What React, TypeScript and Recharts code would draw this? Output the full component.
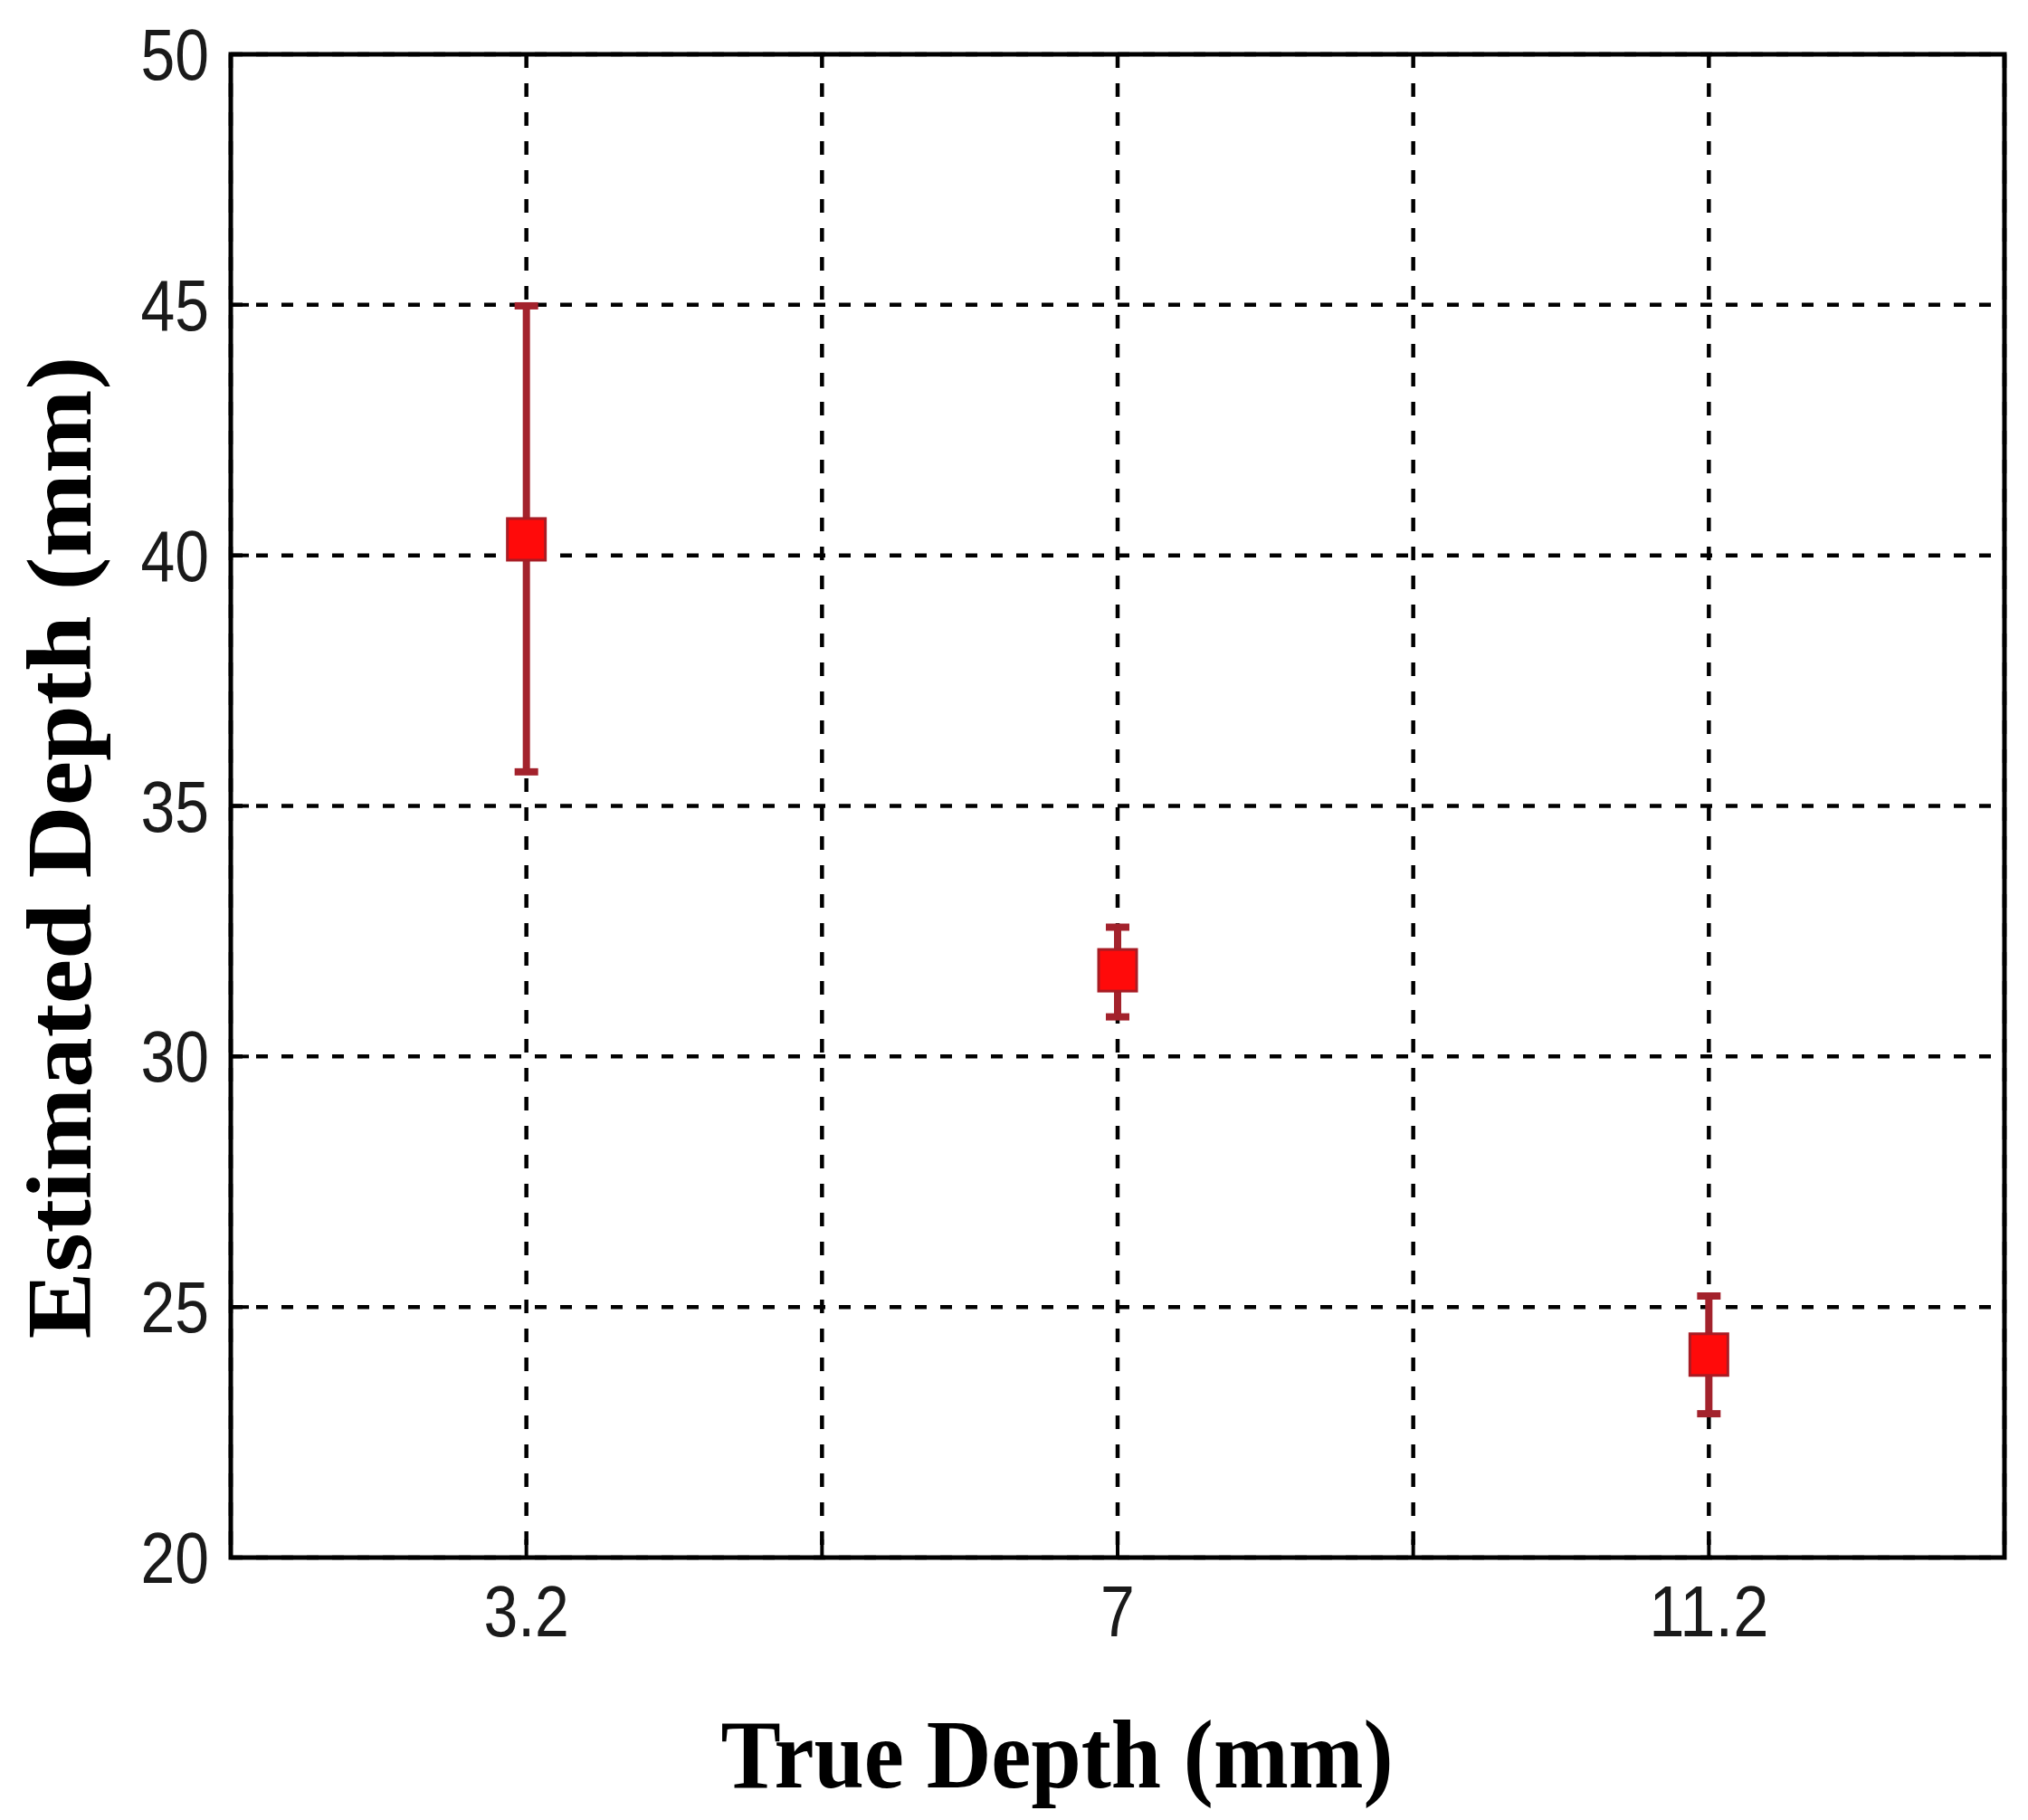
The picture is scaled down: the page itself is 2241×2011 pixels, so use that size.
import React from "react";
import {
  ScatterChart,
  Scatter,
  XAxis,
  YAxis,
  CartesianGrid,
  ErrorBar,
  ReferenceArea,
  Label,
} from "recharts";

// ---- data ----
const trueDepthLabels = ["3.2", "7", "11.2"];
const categorySlots = [1, 3, 5];
const estimatedMean = [40.32, 31.72, 24.05];
const estimatedUpper = [44.98, 32.58, 25.22];
const estimatedLower = [35.68, 30.79, 22.87];
const yTicks = [20, 25, 30, 35, 40, 45, 50];
const xTicks = [1, 2, 3, 4, 5];
const xDomain = [0, 6];
const yDomain = [20, 50];

const data = estimatedMean.map((m, i) => ({
  x: categorySlots[i],
  y: m,
  err: [m - estimatedLower[i], estimatedUpper[i] - m],
  label: trueDepthLabels[i],
}));

const xTickText = (v: number) => {
  const i = categorySlots.indexOf(v);
  return i >= 0 ? trueDepthLabels[i] : "";
};

// ---- styles ----
const TICK_FONT = "'Liberation Sans', Arial, sans-serif";
const LABEL_FONT = "'Liberation Serif', 'Times New Roman', serif";
const TICK_SIZE = 79;
const SQUEEZE = 0.86;
const INWARD = 20;
const BAR_COLOR = "#a3222c";

const textWidth = (s: string) =>
  s.split("").reduce((a, c) => a + (c === "." ? 0.278 : 0.556), 0) * TICK_SIZE * SQUEEZE;

const XTick = (props: any) => {
  const { x, y, payload } = props;
  const t = xTickText(payload.value);
  return (
    <g>
      <line x1={x} y1={y} x2={x} y2={y - INWARD} stroke="#000" strokeWidth={4} />
      {t !== "" && (
        <text
          x={x}
          y={y + 87}
          textAnchor="middle"
          fontFamily={TICK_FONT}
          fontSize={TICK_SIZE}
          fill="#1a1a1a"
          textLength={textWidth(t)}
          lengthAdjust="spacingAndGlyphs"
        >
          {t}
        </text>
      )}
    </g>
  );
};

const TopTick = (props: any) => {
  const { x, y } = props;
  return <line x1={x} y1={y} x2={x} y2={y + INWARD} stroke="#000" strokeWidth={4} />;
};

const YTick = (props: any) => {
  const { x, y, payload } = props;
  const t = String(payload.value);
  return (
    <g>
      <line x1={x} y1={y} x2={x + INWARD} y2={y} stroke="#000" strokeWidth={4} />
      <text
        x={x - 24}
        y={y + 28}
        textAnchor="end"
        fontFamily={TICK_FONT}
        fontSize={TICK_SIZE}
        fill="#1a1a1a"
        textLength={textWidth(t)}
        lengthAdjust="spacingAndGlyphs"
      >
        {t}
      </text>
    </g>
  );
};

const RightTick = (props: any) => {
  const { x, y } = props;
  return <line x1={x} y1={y} x2={x - INWARD} y2={y} stroke="#000" strokeWidth={4} />;
};

const XLabel = (props: any) => {
  const vb = props.viewBox || { x: 255, y: 1721, width: 1960, height: 290 };
  return (
    <text
      x={vb.x + vb.width / 2 - 67}
      y={vb.y + 254}
      textAnchor="middle"
      fontFamily={LABEL_FONT}
      fontWeight="bold"
      fontSize={107}
      fill="#000"
      textLength={743}
      lengthAdjust="spacingAndGlyphs"
    >
      True Depth (mm)
    </text>
  );
};

const YLabel = (props: any) => {
  const vb = props.viewBox || { x: 0, y: 60, width: 255, height: 1661 };
  const cx = 100;
  const cy = vb.y + vb.height / 2 + 46;
  return (
    <text
      x={cx}
      y={cy}
      transform={`rotate(-90, ${cx}, ${cy})`}
      textAnchor="middle"
      fontFamily={LABEL_FONT}
      fontWeight="bold"
      fontSize={102}
      fill="#000"
      textLength={1086}
      lengthAdjust="spacingAndGlyphs"
    >
      Estimated Depth (mm)
    </text>
  );
};

const SquareMarker = (props: any) => {
  const { cx, cy } = props;
  const w = 42;
  const h = 46;
  return (
    <rect
      x={cx - w / 2}
      y={cy - h / 2}
      width={w}
      height={h}
      fill="#ff0a0a"
      stroke="#a81c24"
      strokeWidth={3}
    />
  );
};

export default function App() {
  return (
    <div style={{ position: "absolute", left: 0, top: 0, background: "#fff" }}>
      <ScatterChart
        width={2241}
        height={2011}
        margin={{ top: 60, right: 26, bottom: 0, left: 0 }}
        style={{ background: "#fff" }}
      >
        <CartesianGrid
          horizontal={true}
          vertical={false}
          stroke="#000"
          strokeWidth={4.5}
          strokeDasharray="13 15"
        />
        <CartesianGrid
          horizontal={false}
          vertical={true}
          stroke="#000"
          strokeWidth={4.5}
          strokeDasharray="15 17"
        />
        <XAxis
          xAxisId={0}
          type="number"
          dataKey="x"
          domain={xDomain}
          ticks={xTicks}
          interval={0}
          height={290}
          tickSize={0}
          tickMargin={0}
          axisLine={false}
          tickLine={false}
          tick={<XTick />}
        >
          <Label content={<XLabel />} />
        </XAxis>
        <XAxis
          xAxisId="top"
          orientation="top"
          type="number"
          domain={xDomain}
          ticks={xTicks}
          interval={0}
          height={0}
          tickSize={0}
          tickMargin={0}
          axisLine={false}
          tickLine={false}
          tick={<TopTick />}
        />
        <YAxis
          yAxisId={0}
          type="number"
          dataKey="y"
          domain={yDomain}
          ticks={yTicks}
          interval={0}
          width={255}
          tickSize={0}
          tickMargin={0}
          axisLine={false}
          tickLine={false}
          tick={<YTick />}
        >
          <Label content={<YLabel />} />
        </YAxis>
        <YAxis
          yAxisId="right"
          orientation="right"
          type="number"
          domain={yDomain}
          ticks={yTicks}
          interval={0}
          width={0}
          tickSize={0}
          tickMargin={0}
          axisLine={false}
          tickLine={false}
          tick={<RightTick />}
        />
        <ReferenceArea
          xAxisId={0}
          yAxisId={0}
          x1={xDomain[0]}
          x2={xDomain[1]}
          y1={yDomain[0]}
          y2={yDomain[1]}
          fill="none"
          fillOpacity={0}
          stroke="#000"
          strokeWidth={5}
          ifOverflow="visible"
        />
        <Scatter
          data={data}
          dataKey="y"
          xAxisId={0}
          yAxisId={0}
          shape={<SquareMarker />}
          isAnimationActive={false}
        >
          <ErrorBar
            dataKey="err"
            direction="y"
            width={13}
            stroke={BAR_COLOR}
            strokeWidth={8}
            isAnimationActive={false}
          />
        </Scatter>
      </ScatterChart>
    </div>
  );
}
